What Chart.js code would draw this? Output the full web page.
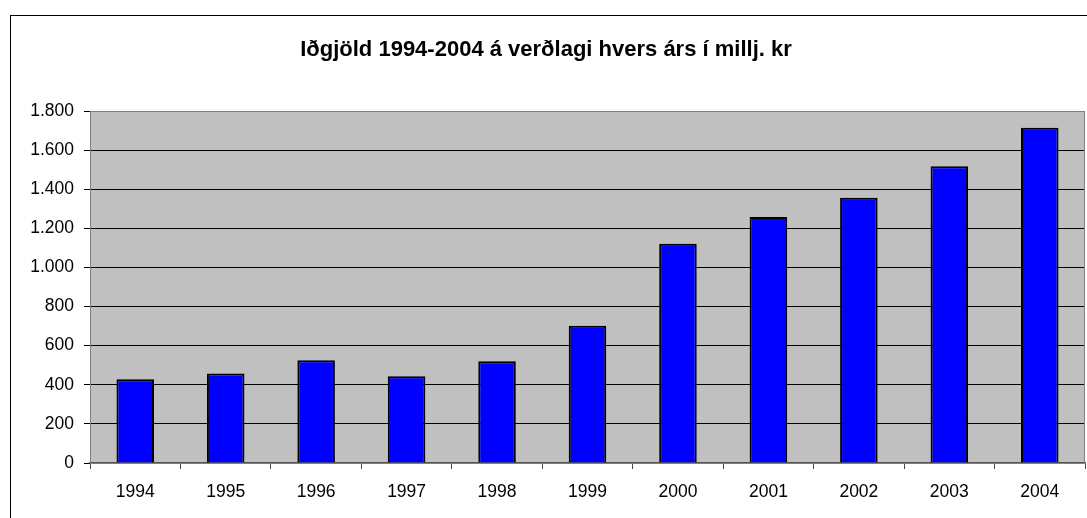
<!DOCTYPE html>
<html>
<head>
<meta charset="utf-8">
<script src="https://cdn.jsdelivr.net/npm/chart.js@4"></script>
<style>
  html, body { margin: 0; padding: 0; background: #fff; }
  #wrap { width: 1087px; height: 518px; position: relative; }
</style>
</head>
<body>
<div id="wrap"><canvas id="chart"></canvas></div>
<script>
// data
const years = ['1994', '1995', '1996', '1997', '1998', '1999', '2000', '2001', '2002', '2003', '2004'];
const premiums = [428, 458, 525, 443, 520, 702, 1121, 1258, 1356, 1517, 1714];
const chartTitle = 'Iðgjöld 1994-2004 á verðlagi hvers árs í millj. kr';

const FONT = 'Arial, "Liberation Sans", sans-serif';

function thousands(v) {
    return String(v).replace(/\B(?=(\d{3})+(?!\d))/g, '.');
}

// gray plot area, its border, the outer frame and the title
const frame = {
    id: 'frame',
    beforeDraw(chart) {
        const ctx = chart.ctx;
        const a = chart.chartArea;
        ctx.save();
        ctx.fillStyle = '#C0C0C0';
        ctx.fillRect(a.left, a.top, a.right - a.left, a.bottom - a.top);
        ctx.strokeStyle = '#000';
        ctx.lineWidth = 1;
        ctx.strokeRect(10.5, 15.5, 1100, 600);
        ctx.fillStyle = '#000';
        ctx.font = 'bold 22px ' + FONT;
        ctx.textAlign = 'center';
        ctx.textBaseline = 'middle';
        ctx.fillText(chartTitle, 546, 50);
        ctx.restore();
    },
    afterDatasetsDraw(chart) {
        const ctx = chart.ctx;
        const a = chart.chartArea;
        ctx.save();
        ctx.strokeStyle = '#808080';
        ctx.lineWidth = 1;
        ctx.strokeRect(a.left + 0.5, a.top + 0.5, a.right - a.left - 1, a.bottom - a.top);
        ctx.restore();
    }
};

const ctx = document.getElementById('chart').getContext('2d');
new Chart(ctx, {
    type: 'bar',
    data: {
        labels: years,
        datasets: [{
            data: premiums,
            backgroundColor: '#0000FF',
            borderColor: '#000',
            borderWidth: 2,
            barPercentage: 0.415,
            categoryPercentage: 1
        }]
    },
    options: {
        responsive: true,
        maintainAspectRatio: false,
        animation: false,
        layout: { padding: { top: 111, right: 2, left: 0, bottom: 0 } },
        plugins: {
            legend: { display: false },
            title: { display: false },
            tooltip: { enabled: false }
        },
        scales: {
            x: {
                afterFit(scale) { scale.height = 55; },
                grid: {
                    drawOnChartArea: false,
                    drawTicks: true,
                    tickLength: 6,
                    color: '#444'
                },
                border: { color: '#555', width: 1.5 },
                ticks: {
                    color: '#000',
                    padding: 13,
                    maxRotation: 0,
                    font: { family: FONT, size: 17.5 }
                }
            },
            y: {
                min: 0,
                max: 1800,
                afterFit(scale) { scale.width = 90; },
                grid: {
                    color: '#000',
                    lineWidth: 1,
                    tickLength: 6
                },
                border: { color: '#808080' },
                ticks: {
                    stepSize: 200,
                    color: '#000',
                    padding: 10,
                    font: { family: FONT, size: 17.5 },
                    callback: v => thousands(v)
                }
            }
        }
    },
    plugins: [frame]
});
</script>
</body>
</html>
